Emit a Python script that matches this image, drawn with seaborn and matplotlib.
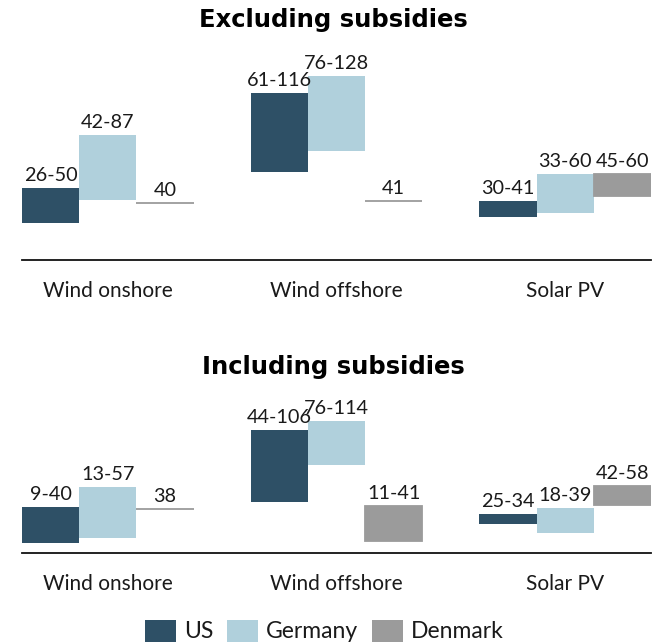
import matplotlib
matplotlib.use("Agg")
import matplotlib.pyplot as plt
import seaborn as sns
import pandas as pd
from matplotlib.patches import Patch

categories = ["Wind onshore", "Wind offshore", "Solar PV"]
countries = ["US", "Germany", "Denmark"]

# Excluding subsidies (low / high of range)
us_excl_low = [26, 61, 30]
us_excl_high = [50, 116, 41]
de_excl_low = [42, 76, 33]
de_excl_high = [87, 128, 60]
dk_excl_low = [40, 41, 45]
dk_excl_high = [40, 41, 60]

# Including subsidies
us_incl_low = [9, 44, 25]
us_incl_high = [40, 106, 34]
de_incl_low = [13, 76, 18]
de_incl_high = [57, 114, 39]
dk_incl_low = [38, 11, 42]
dk_incl_high = [38, 41, 58]

colors = {"US": "#2e5066", "Germany": "#b0d0dc", "Denmark": "#9b9b9b"}

sns.set_style("white")
plt.rcParams["font.family"] = ["Lato", "DejaVu Sans"]
TXT = "#1a1a1a"

fig = plt.figure(figsize=(6.66, 6.43), dpi=100)
ax_top = fig.add_axes([22 / 666, 0.5949, 629 / 666, 0.2918])
ax_bot = fig.add_axes([22 / 666, 0.1392, 629 / 666, 0.2078])


def fmt(lo, hi):
    return f"{lo}" if lo == hi else f"{lo}-{hi}"


def draw(ax, lows, highs, ymax):
    rows = []
    for country in countries:
        for cat, l, h in zip(categories, lows[country], highs[country]):
            rows.append({"category": cat, "country": country, "span": h - l})
    df = pd.DataFrame(rows)
    sns.barplot(data=df, x="category", y="span", hue="country",
                order=categories, hue_order=countries, palette=colors,
                dodge=True, width=0.75, errorbar=None, saturation=1,
                legend=False, ax=ax, linewidth=0)
    for country, cont in zip(countries, ax.containers):
        for patch, lo in zip(cont.patches, lows[country]):
            patch.set_y(lo)
            if country == "Denmark":
                patch.set_edgecolor(colors["Denmark"])
                patch.set_linewidth(1.3)
        labels = [fmt(l, h) for l, h in zip(lows[country], highs[country])]
        ax.bar_label(cont, labels=labels, padding=3, fontsize=14.3, color=TXT)
    ax.set_xlim(-0.375, 2.375)
    ax.set_ylim(0, ymax)
    ax.set_yticks([])
    ax.set_xticks(range(len(categories)))
    ax.set_xticklabels(categories, fontsize=15, color=TXT)
    ax.tick_params(axis="x", length=0, pad=15)
    ax.set_xlabel("")
    ax.set_ylabel("")
    for s in ["top", "left", "right"]:
        ax.spines[s].set_visible(False)
    ax.spines["bottom"].set_color("#111111")
    ax.spines["bottom"].set_linewidth(1.3)


draw(ax_top,
     {"US": us_excl_low, "Germany": de_excl_low, "Denmark": dk_excl_low},
     {"US": us_excl_high, "Germany": de_excl_high, "Denmark": dk_excl_high},
     130)
draw(ax_bot,
     {"US": us_incl_low, "Germany": de_incl_low, "Denmark": dk_incl_low},
     {"US": us_incl_high, "Germany": de_incl_high, "Denmark": dk_incl_high},
     115)

fig.text(0.5, 1 - 20 / 643, "Excluding subsidies", ha="center", va="center",
         fontsize=17.5, fontweight="bold", family="DejaVu Sans", color="black")
fig.text(0.5, 1 - 367 / 643, "Including subsidies", ha="center", va="center",
         fontsize=17.5, fontweight="bold", family="DejaVu Sans", color="black")

handles = [Patch(facecolor=colors[c], edgecolor="none", label=c) for c in countries]
fig.legend(handles=handles, loc="center", bbox_to_anchor=(324 / 666, 1 - 631 / 643),
           ncol=3, frameon=False, fontsize=16.5, handlelength=1.35, handleheight=1.1,
           handletextpad=0.35, columnspacing=0.6, labelcolor=TXT,
           borderpad=0.2)

fig.savefig("out.png", dpi=100)
